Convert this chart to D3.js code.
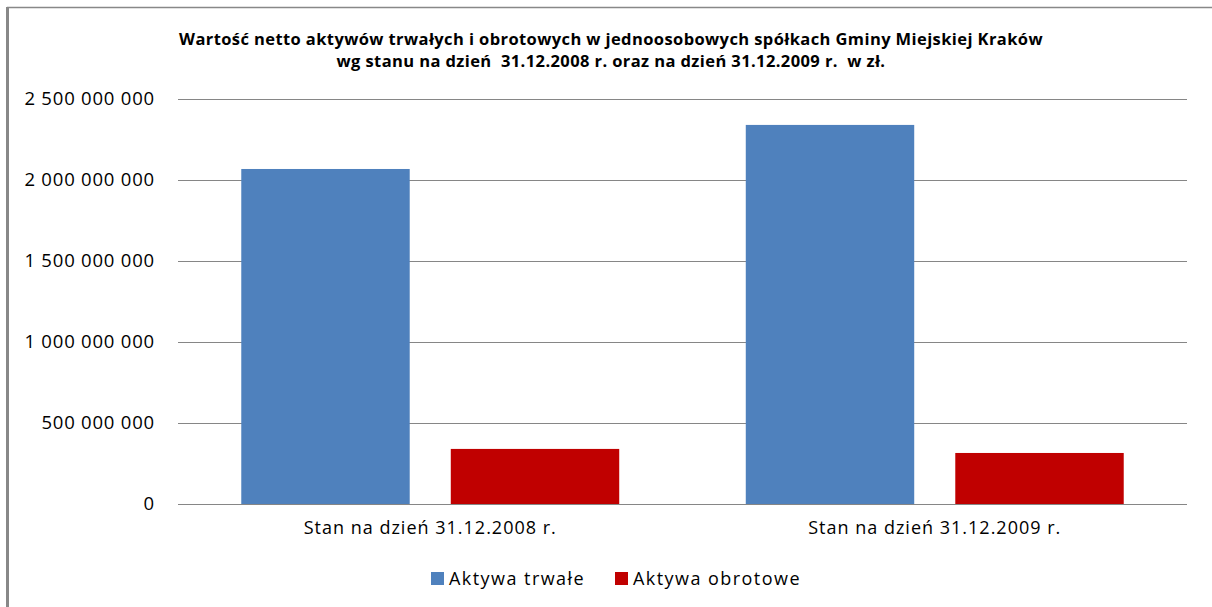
<!DOCTYPE html>
<html>
<head>
<meta charset="utf-8">
<script src="https://cdn.jsdelivr.net/npm/d3@7"></script>
<style>
    body { margin: 0; background: #fff; }
    svg { display: block; }
    text { font-family: "Open Sans", "DejaVu Sans", sans-serif; fill: #000; white-space: pre; }
</style>
</head>
<body>
<div id="chart"></div>
<script>
const categories = ["Stan na dzień 31.12.2008 r.", "Stan na dzień 31.12.2009 r."];
const seriesNames = ["Aktywa trwałe", "Aktywa obrotowe"];
const seriesColors = ["#4f81bd", "#c00000"];
const trwale = [2068000000, 2340000000];
const obrotowe = [340000000, 315000000];
const yTicks = [0, 500000000, 1000000000, 1500000000, 2000000000, 2500000000];
const titleLines = [
    "Wartość netto aktywów trwałych i obrotowych w jednoosobowych spółkach Gminy Miejskiej Kraków",
    "wg stanu na dzień  31.12.2008 r. oraz na dzień 31.12.2009 r.  w zł."
];

const W = 1212, H = 607;
const margin = {top: 99, right: 25, bottom: 103, left: 178};

const svg = d3.select("#chart").append("svg")
    .attr("width", W)
    .attr("height", H);

// frame of the chart area (only top and left edges are visible)
svg.append("line").attr("x1", 7).attr("x2", W).attr("y1", 7.5).attr("y2", 7.5)
    .attr("stroke", "#888").attr("stroke-width", 1.5);
svg.append("line").attr("x1", 7.5).attr("x2", 7.5).attr("y1", 7).attr("y2", H)
    .attr("stroke", "#888").attr("stroke-width", 3);

var title = svg.append("text")
    .attr("text-anchor", "middle")
    .attr("font-weight", "bold")
    .attr("font-size", "16.5px")
    .attr("letter-spacing", "0.4px");
titleLines.forEach(function(line, i) {
    title.append("tspan")
        .attr("x", 611)
        .attr("y", 45 + i * 22)
        .text(line);
});

var x0 = d3.scaleBand()
    .domain(categories)
    .range([margin.left, W - margin.right]);

var x1 = d3.scaleBand()
    .domain(seriesNames)
    .range([0, x0.bandwidth()])
    .paddingInner(0.196)
    .paddingOuter(0.302);

var y = d3.scaleLinear()
    .domain([0, 2500000000])
    .range([H - margin.bottom, margin.top]);

var fmt = function(d) {
    return d3.format(",")(d).replace(/,/g, " ");
};

// gridlines + y labels
var yAxis = d3.axisLeft(y)
    .tickValues(yTicks)
    .tickSize(-(W - margin.right - margin.left))
    .tickPadding(23)
    .tickFormat(fmt);

var gy = svg.append("g")
    .attr("transform", "translate(" + margin.left + ",0)")
    .call(yAxis);
gy.select(".domain").remove();
gy.selectAll(".tick line").attr("stroke", "#868686").attr("stroke-width", 1);
gy.selectAll(".tick text")
    .attr("font-size", "18.5px")
    .attr("letter-spacing", "0.8px")
    .attr("fill", "#000");

// bars
var rows = categories.map(function(c, i) {
    return {category: c, values: [trwale[i], obrotowe[i]]};
});

var groups = svg.selectAll("g.group")
    .data(rows)
    .enter().append("g")
    .attr("class", "group")
    .attr("transform", function(d) { return "translate(" + x0(d.category) + ",0)"; });

groups.selectAll("rect")
    .data(function(d) {
        return d.values.map(function(v, j) { return {name: seriesNames[j], value: v, color: seriesColors[j]}; });
    })
    .enter().append("rect")
    .attr("x", function(d) { return x1(d.name); })
    .attr("y", function(d) { return y(d.value); })
    .attr("width", x1.bandwidth())
    .attr("height", function(d) { return y(0) - y(d.value); })
    .attr("fill", function(d) { return d.color; });

// baseline on top of bars
svg.append("line")
    .attr("x1", margin.left).attr("x2", W - margin.right)
    .attr("y1", y(0) + 0.5).attr("y2", y(0) + 0.5)
    .attr("stroke", "#868686");

// category labels
var xAxis = d3.axisBottom(x0).tickSize(0).tickPadding(17);
var gx = svg.append("g")
    .attr("transform", "translate(0," + y(0) + ")")
    .call(xAxis);
gx.select(".domain").remove();
gx.selectAll(".tick text")
    .attr("font-size", "18px")
    .attr("letter-spacing", "1px")
    .attr("fill", "#000");

// legend
var legend = svg.append("g").attr("transform", "translate(431,572)");
var legendX = [0, 184];
seriesNames.forEach(function(name, i) {
    var item = legend.append("g").attr("transform", "translate(" + legendX[i] + ",0)");
    item.append("rect")
        .attr("width", 13).attr("height", 13)
        .attr("fill", seriesColors[i]);
    item.append("text")
        .attr("x", 18).attr("y", 13)
        .attr("font-size", "18px")
        .attr("letter-spacing", "1.45px")
        .text(name);
});
</script>
</body>
</html>
